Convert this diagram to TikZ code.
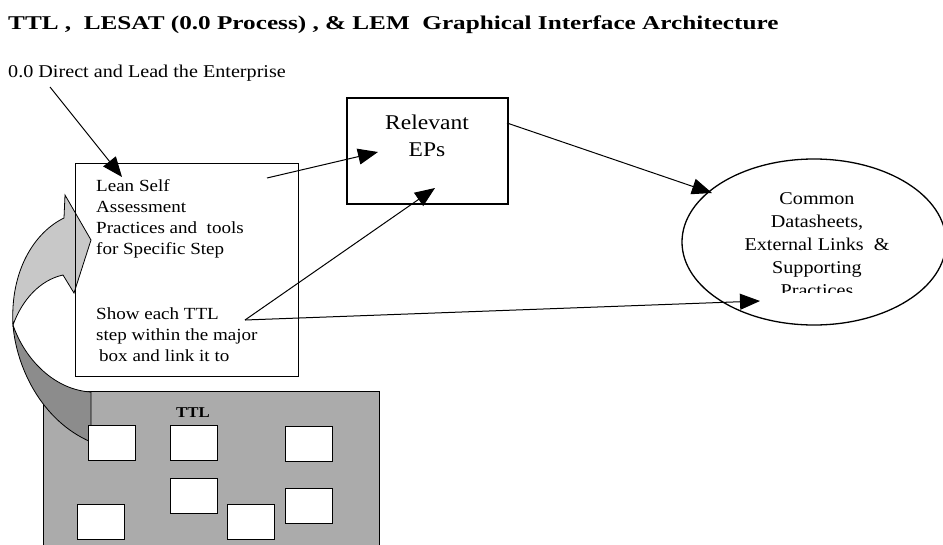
\documentclass[tikz,border=0pt]{standalone}
\usepackage{fontspec}
\setmainfont{Liberation Serif}[FakeStretch=1.12]
\usetikzlibrary{arrows.meta,shapes.geometric}
\definecolor{shadelight}{HTML}{C8C8C8}
\definecolor{shadedark}{HTML}{8C8C8C}
\definecolor{ttlgray}{HTML}{ABABAB}
\tikzset{
  arr/.style={-{Triangle[length=20pt,width=16pt]}, line width=1pt},
  txt/.style={inner sep=0pt, align=left, anchor=north west},
  stepbox/.style={draw, line width=1.4pt, fill=white, minimum width=47pt, minimum height=35pt, inner sep=0pt, anchor=north west}
}
\begin{document}
\begin{tikzpicture}[x=1pt,y=-1pt]
\useasboundingbox (0,0) rectangle (943,544);

% heading and top label
\node[inner sep=0pt, anchor=base west] (title) at (8,29)
  {\scalebox{1.154}[1]{\fontsize{19.5}{23}\selectfont\bfseries TTL ,\ \ LESAT (0.0 Process) , \& LEM\ \ Graphical Interface Architecture}};
\node[inner sep=0pt, anchor=base west, font=\fontsize{18}{22}\selectfont] (direct) at (8,77)
  {0.0 Direct and Lead the Enterprise};

% TTL panel with step boxes
\node[draw, line width=1.3pt, fill=ttlgray, minimum width=336pt, minimum height=160pt, inner sep=0pt, anchor=north west] (ttl) at (43,391) {};
\node[inner sep=0pt, anchor=base, font=\fontsize{15}{18}\selectfont\bfseries] (ttllabel) at (193,417) {TTL};

% curved block arrow: lighter upper face
\fill[shadelight, draw=black, line width=0.8pt]
  (13,325) .. controls (10,270) and (35,232) .. (64,218)
  -- (65,195) -- (91,240) -- (74,293) -- (63,275)
  .. controls (40,280) and (22,300) .. (13,325) -- cycle;
% darker underside running into the TTL panel
\fill[shadedark, draw=black, line width=0.8pt]
  (13,325) .. controls (16,365) and (40,420) .. (91,442)
  -- (91,392) .. controls (55,390) and (25,360) .. (13,325) -- cycle;

\node[stepbox] (s1) at (88,425) {};
\node[stepbox] (s2) at (170,425) {};
\node[stepbox] (s3) at (285,426) {};
\node[stepbox] (s4) at (170,478) {};
\node[stepbox] (s5) at (285,488) {};
\node[stepbox] (s6) at (77,504) {};
\node[stepbox] (s7) at (227,504) {};

% main step box (outline only, the block arrow shows through)
\node[draw, line width=1.1pt, minimum width=223pt, minimum height=213pt, inner sep=0pt, anchor=north west] (mainbox) at (75,163) {};
\node[txt, font=\fontsize{17}{21}\selectfont] (lean) at (96,179)
  {Lean Self\\Assessment\\Practices and\ \ tools\\for Specific Step};
\node[txt, font=\fontsize{17}{21}\selectfont] (show) at (96,307)
  {Show each TTL\\step within the major\\\hspace*{3pt}box and link it to};

% relevant EPs box
\node[draw, line width=1.8pt, fill=white, minimum width=161pt, minimum height=106pt, inner sep=0pt, anchor=north west] (eps) at (346,97) {};
\node[inner sep=0pt, align=center, anchor=north, font=\fontsize{21}{27}\selectfont] (epstext) at (427,115)
  {Relevant\\EPs};

% datasheet ellipse
\node[draw, ellipse, line width=1.3pt, minimum width=264pt, minimum height=166pt, inner sep=0pt] (common) at (814,242) {};
\begin{scope}
  \clip (640,150) rectangle (943,292);
  \node[inner sep=0pt, align=center, anchor=north, font=\fontsize{18}{23}\selectfont] (commontext) at (817,192)
    {Common\\Datasheets,\\External Links\ \ \&\\Supporting\\Practices};
\end{scope}

% connector ends
\coordinate (directfoot) at (50,87);
\coordinate (mainin) at (122,177);
\coordinate (leanout) at (267,178);
\coordinate (epsin) at (378,152);
\coordinate (showout) at (245,320);
\coordinate (epsbottom) at (435,188);
\coordinate (epsout) at (507,123);
\coordinate (commonin) at (712,193);
\coordinate (commonlow) at (760,301);

\draw[arr] (directfoot) -- (mainin);
\draw[arr] (leanout) -- (epsin);
\draw[arr] (showout) -- (epsbottom);
\draw[arr] (showout) -- (commonlow);
\draw[arr] (epsout) -- (commonin);
\end{tikzpicture}
\end{document}
